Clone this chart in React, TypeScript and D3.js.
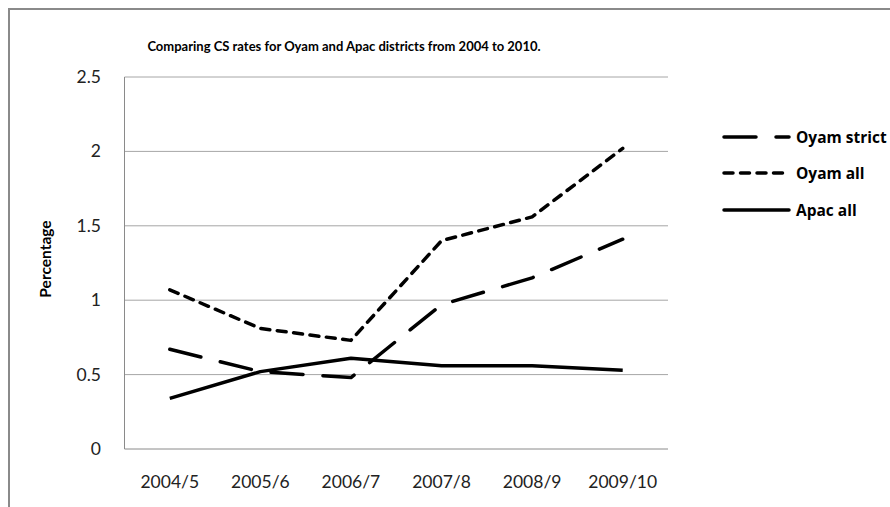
import React from "react";
import * as d3 from "d3";

const categories = ["2004/5", "2005/6", "2006/7", "2007/8", "2008/9", "2009/10"];
const oyamStrict = [0.67, 0.52, 0.48, 0.97, 1.15, 1.41];
const oyamAll = [1.07, 0.81, 0.73, 1.4, 1.56, 2.02];
const apacAll = [0.34, 0.52, 0.61, 0.56, 0.56, 0.53];
const yTicks = [0, 0.5, 1, 1.5, 2, 2.5];
const seriesNames = ["Oyam strict", "Oyam all", "Apac all"];

const W = 890;
const H = 507;
const plot = { left: 124.5, right: 668, top: 77, bottom: 449 };
const FONT = "Lato, 'Open Sans', sans-serif";
const LFONT = "'Open Sans', Lato, sans-serif";

export default function App() {
  const x = d3.scaleBand<string>().domain(categories).range([plot.left, plot.right]);
  const y = d3.scaleLinear().domain([0, 2.5]).range([plot.bottom, plot.top]);
  const cx = (c: string) => (x(c) as number) + x.bandwidth() / 2;
  const line = d3
    .line<number>()
    .x((_, i) => cx(categories[i]))
    .y((d) => y(d));

  const series = [
    { name: seriesNames[0], values: oyamStrict, dash: "32,20" },
    { name: seriesNames[1], values: oyamAll, dash: "9,7.5" },
    { name: seriesNames[2], values: apacAll, dash: "" },
  ];
  const legendY = [137, 173, 210];

  return (
    <svg width={W} height={H} style={{ position: "absolute", left: 0, top: 0, background: "#fff" }}>
      <rect x={9} y={9} width={W + 20} height={H + 20} fill="#fff" stroke="#8a8a8a" strokeWidth={2} />
      <text x={344} y={51} textAnchor="middle" fontFamily={FONT} fontWeight="bold" fontSize={13} fill="#000">
        Comparing CS rates for Oyam and Apac districts from 2004 to 2010.
      </text>
      {yTicks.map((t) =>
        t === 0 ? null : (
          <line key={"g" + t} x1={plot.left} x2={plot.right} y1={y(t)} y2={y(t)} stroke="#a6a6a6" strokeWidth={1} />
        )
      )}
      <line x1={plot.left} x2={plot.left} y1={plot.top} y2={plot.bottom} stroke="#8a8a8a" strokeWidth={1} />
      <line x1={plot.left} x2={plot.right} y1={plot.bottom} y2={plot.bottom} stroke="#8a8a8a" strokeWidth={1} />
      {yTicks.map((t) => (
        <text key={"t" + t} x={101} y={y(t) + 6} textAnchor="end" fontFamily={FONT} fontSize={17.5} fill="#222">
          {String(t)}
        </text>
      ))}
      {categories.map((c) => (
        <text key={c} x={cx(c)} y={488} textAnchor="middle" fontFamily={FONT} fontSize={17.5} fill="#222">
          {c}
        </text>
      ))}
      <text
        transform={`translate(51, 259) rotate(-90)`}
        textAnchor="middle"
        fontFamily={FONT}
        fontWeight="bold"
        fontSize={15.5}
        fill="#000"
      >
        Percentage
      </text>
      {series.map((s) => (
        <path
          key={s.name}
          d={line(s.values) as string}
          fill="none"
          stroke="#000"
          strokeWidth={3.5}
          strokeDasharray={s.dash || undefined}
          strokeLinecap={s.dash ? "round" : "butt"}
          strokeLinejoin="round"
        />
      ))}
      {series.map((s, i) => (
        <g key={"l" + s.name}>
          <line
            x1={724}
            x2={789}
            y1={legendY[i]}
            y2={legendY[i]}
            stroke="#000"
            strokeWidth={3.5}
            strokeDasharray={s.dash || undefined}
            strokeLinecap="round"
          />
          <text x={796} y={legendY[i] + 5.5} fontFamily={LFONT} fontWeight="bold" fontSize={15.5} fill="#000">
            {s.name}
          </text>
        </g>
      ))}
    </svg>
  );
}
